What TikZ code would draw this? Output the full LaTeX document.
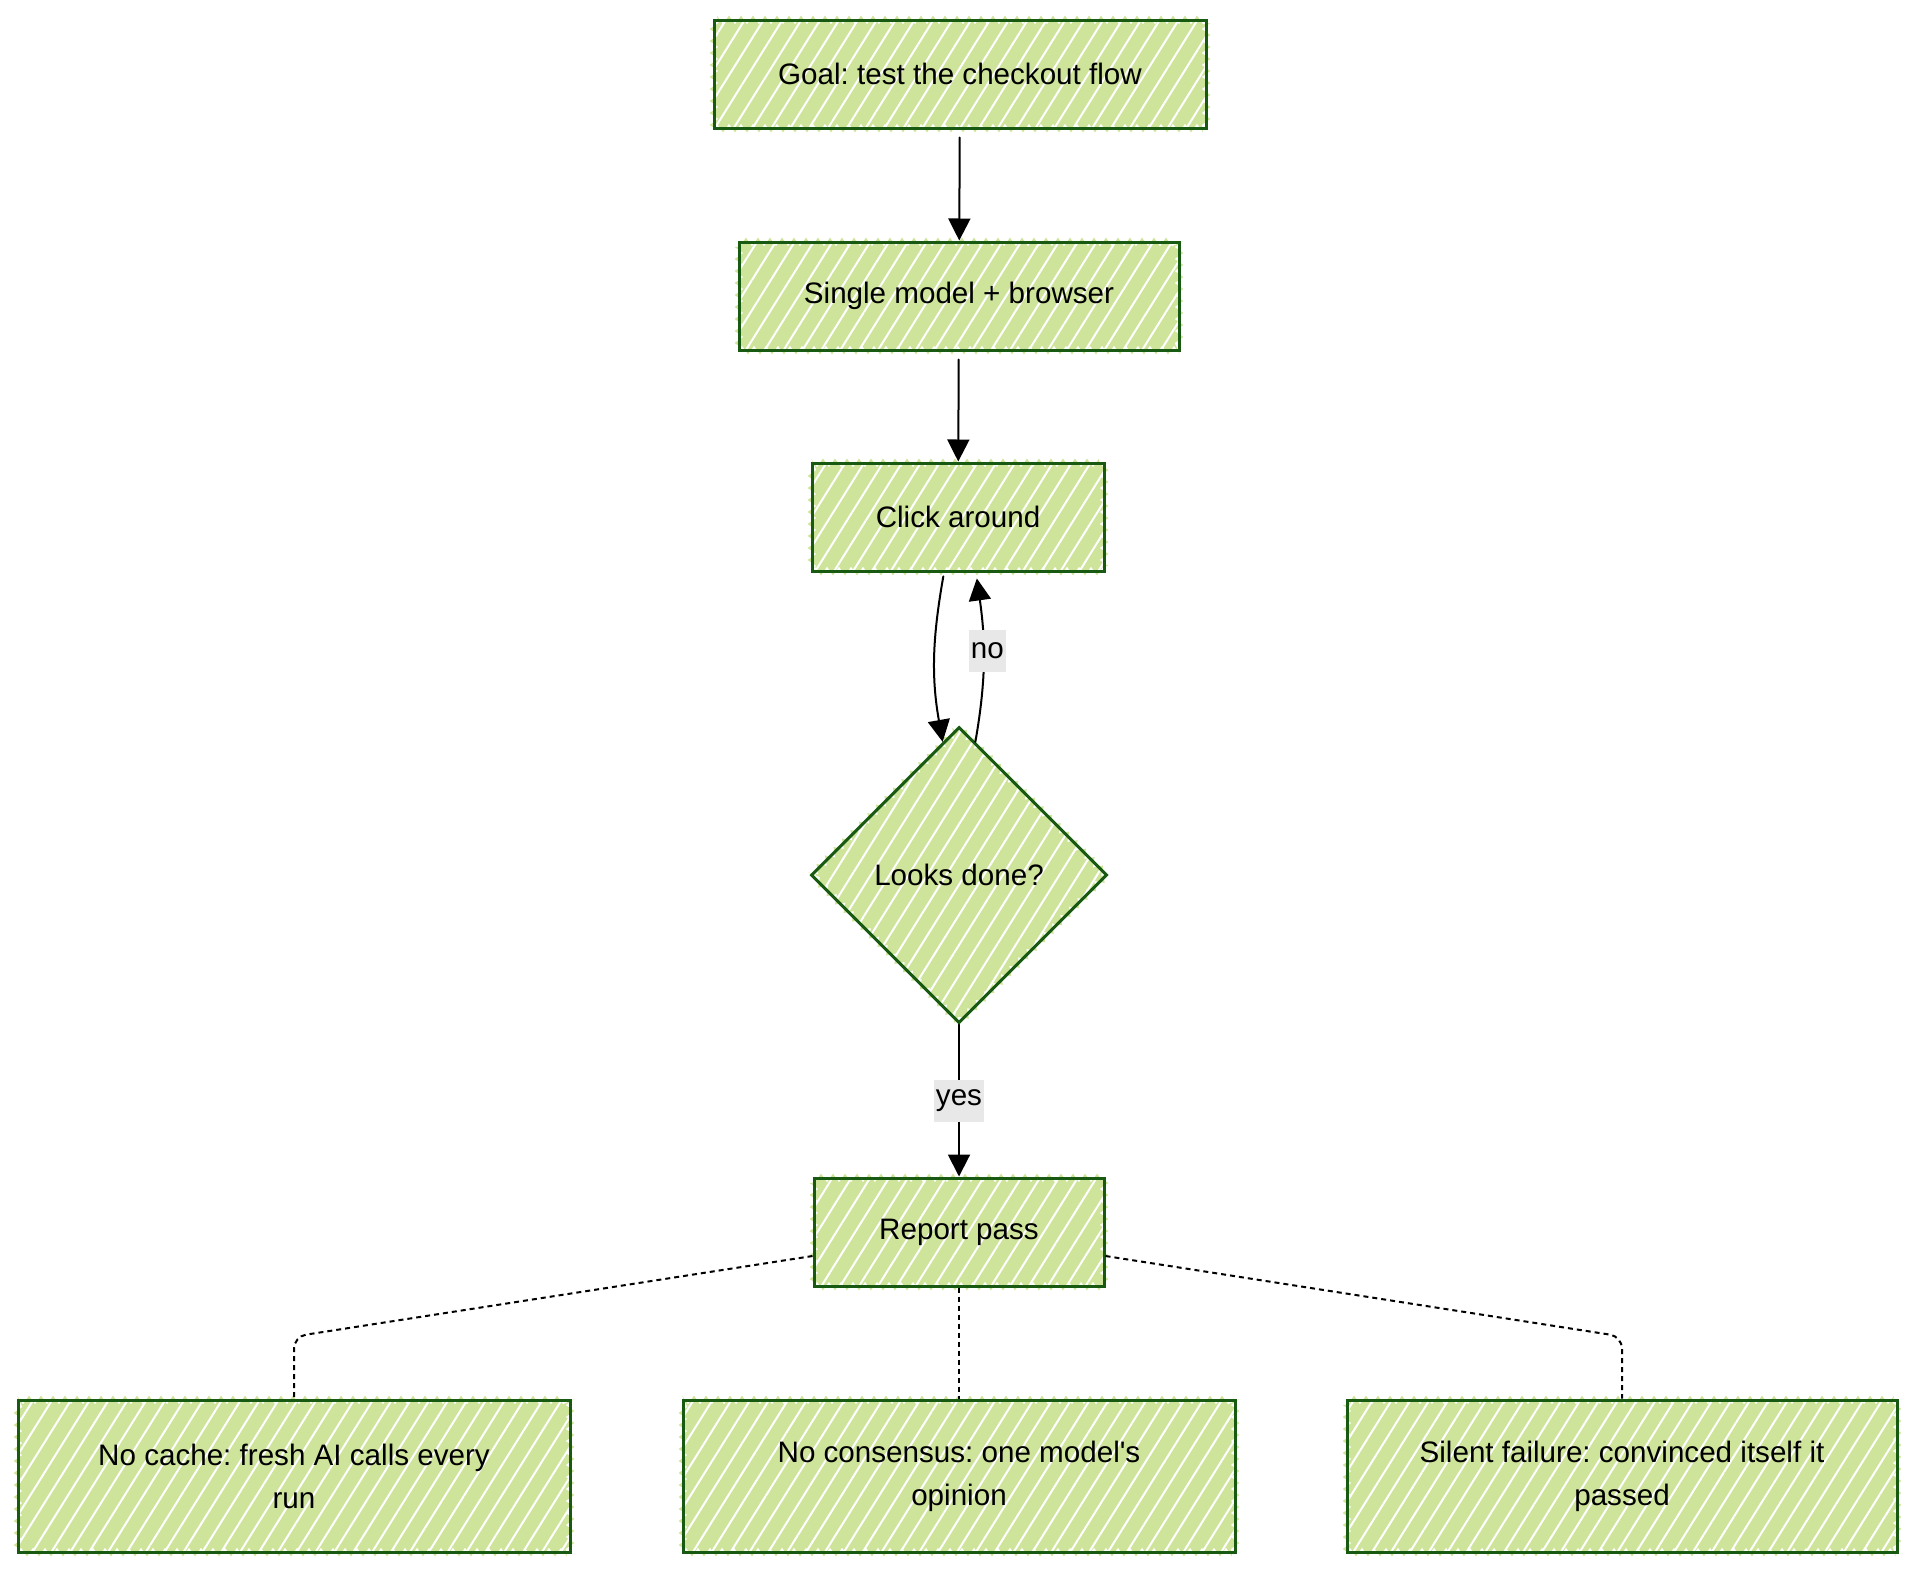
\documentclass[tikz,border=0pt]{standalone}
\usepackage{fontspec}
\setmainfont{Liberation Sans}
\frenchspacing
\usetikzlibrary{arrows.meta,shapes.geometric,patterns.meta,decorations.pathmorphing}

\begin{document}
\begin{tikzpicture}
			[x=0.5pt,y=-0.5pt,line cap=round,
			%Styles
			box/.style={draw=boxline,line width=1.5pt,
				preaction={fill=boxfill,decorate,decoration={zigzag,amplitude=2.2pt,segment length=6pt}},
				preaction={pattern={Lines[angle=58,distance=8pt,line width=1pt]},pattern color=white},
				minimum height=54pt,inner sep=0pt,align=center,
				font=\fontsize{14.8}{21.5}\selectfont},
			decision/.style={box,diamond,aspect=1,minimum width=148pt,minimum height=148pt},
			flow arrow/.style={line width=1pt,-{Triangle[length=11pt,width=11pt]}},
			note link/.style={line width=1pt,line cap=butt,dash pattern=on 2.5pt off 2pt,rounded corners=6pt},
			edge label/.style={fill=labelgray,inner xsep=1pt,inner ysep=0pt,minimum height=21pt,
				font=\fontsize{14.8}{17}\selectfont}
			]
			
			%Colors
			\definecolor{boxfill}{RGB}{206,228,154}
			\definecolor{boxline}{RGB}{24,90,18}
			\definecolor{labelgray}{RGB}{232,232,232}
			
			\useasboundingbox (0,0) rectangle (1920,1574);
			
			%The graphic
			\node[box,minimum width=246pt] (goal) at (960,74) {Goal: test the checkout flow};
			\node[box,minimum width=220pt] (single) at (959,296) {Single model + browser};
			\node[box,minimum width=146pt] (click) at (958,517) {Click around};
			\node[decision] (done) at (959,875) {Looks done?};
			\node[box,minimum width=145pt] (report) at (959,1232) {Report pass};
			\node[box,minimum width=276pt,minimum height=76pt] (cache) at (294,1476) {No cache: fresh AI calls every\\run};
			\node[box,minimum width=276pt,minimum height=76pt] (consensus) at (959,1476) {No consensus: one model\textquotesingle s\\opinion};
			\node[box,minimum width=275pt,minimum height=76pt] (failure) at (1622,1476) {Silent failure: convinced itself it\\passed};
			
			\draw[flow arrow,shorten <=4pt] (goal) -- (single);
			\draw[flow arrow,shorten <=4pt] (single) -- (click);
			\draw[flow arrow,shorten <=2pt] ([xshift=-7pt]click.south) to[out=-100,in=100] (done.97);
			\draw[flow arrow,shorten >=3pt] (done.83) to[out=80,in=-82] node[edge label,pos=0.54,xshift=2pt] {no} ([xshift=9pt]click.south);
			\draw[flow arrow] (done) -- node[edge label] {yes} (report);
			
			\draw[note link] ([yshift=-12pt]report.west) -- ([yshift=31pt]cache.north) -- (cache.north);
			\draw[note link] (report) -- (consensus);
			\draw[note link] ([yshift=-12pt]report.east) -- ([yshift=31pt]failure.north) -- (failure.north);
		\end{tikzpicture}
\end{document}
